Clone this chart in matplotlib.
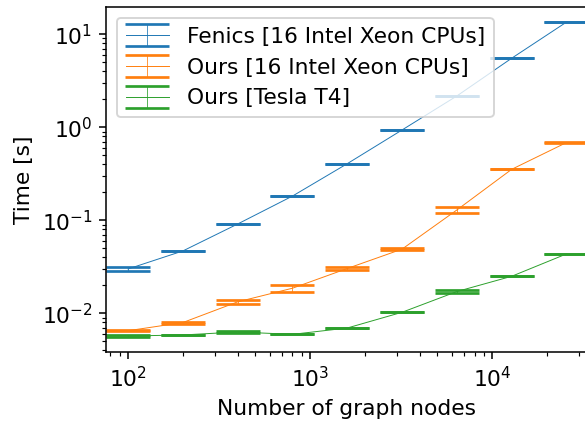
import numpy as np
import matplotlib.pyplot as plt

# graph sizes (x) and measured time ranges (lower / upper caps) in seconds
nodes = [100, 200, 400, 800, 1600, 3200, 6400, 12800, 25600]

fenics_lo = [0.0285, 0.0468, 0.0912, 0.182, 0.406, 0.935, 2.17, 5.52, 13.5]
fenics_hi = [0.0315, 0.0468, 0.0912, 0.182, 0.406, 0.935, 2.17, 5.52, 13.5]

cpu_lo = [0.0064, 0.00776, 0.01268, 0.01706, 0.0290, 0.048, 0.119, 0.353, 0.67]
cpu_hi = [0.0066, 0.00816, 0.0139, 0.0203, 0.0317, 0.050, 0.140, 0.353, 0.70]

gpu_lo = [0.0056, 0.00585, 0.0062, 0.00594, 0.00695, 0.01026, 0.0165, 0.0250, 0.0435]
gpu_hi = [0.0058, 0.00585, 0.0064, 0.00594, 0.00695, 0.01026, 0.0178, 0.0250, 0.0435]

series = [
    ("Fenics [16 Intel Xeon CPUs]", fenics_lo, fenics_hi),
    ("Ours [16 Intel Xeon CPUs]", cpu_lo, cpu_hi),
    ("Ours [Tesla T4]", gpu_lo, gpu_hi),
]

plt.rcParams["font.size"] = 11.3

fig = plt.figure(figsize=(4.21, 3.03), dpi=139)
ax = fig.add_axes([106 / 585, 1 - 352 / 421, (587 - 106) / 585, 345 / 421])

for label, lo, hi in series:
    lo = np.array(lo)
    hi = np.array(hi)
    mid = np.sqrt(lo * hi)
    ax.errorbar(nodes, mid, yerr=[mid - lo, hi - mid], capsize=11.4,
                capthick=1.4, elinewidth=0.4, lw=0.5, label=label)

ax.set_xscale("log")
ax.set_yscale("log")
ax.set_xlim(75.7, 33260)
ax.set_ylim(0.00384, 19.7)
ax.set_xlabel("Number of graph nodes")
ax.set_ylabel("Time [s]")
ax.legend(loc="upper left")

plt.savefig("out.png", dpi=139)
